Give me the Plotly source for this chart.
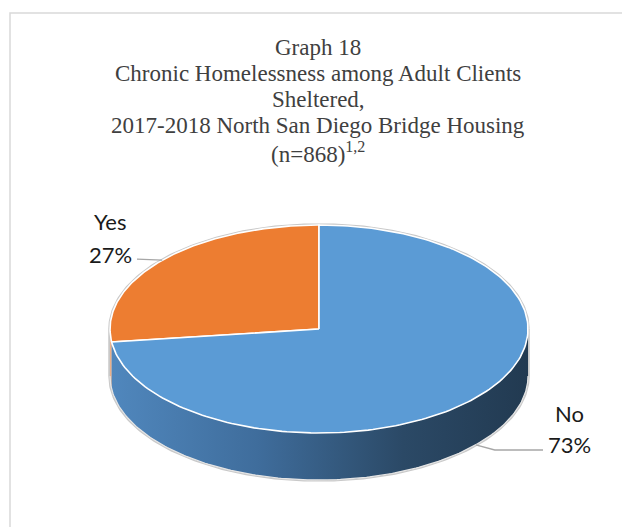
import numpy as np
import plotly.graph_objects as go

# Chart data
categories = ["Yes", "No"]
percents = [27, 73]
n_clients = 868
slice_colors = ["#ED7D31", "#5B9BD5"]

title_lines = [
    "Graph 18",
    "Chronic Homelessness among Adult Clients",
    "Sheltered,",
    "2017-2018 North San Diego Bridge Housing",
    f"(n={n_clients})<sup>1,2</sup>",
]

# Canvas / pie geometry (pixel space)
W, H = 622, 527
CX, CY = 319, 329      # centre of the top face
RX, RY = 209, 104      # ellipse radii of the top face
DEPTH = 47             # thickness of the disc
START = 90.0           # first slice starts at 12 o'clock, counter-clockwise


def arc(t0, t1, dy=0.0, n=200):
    t = np.radians(np.linspace(t0, t1, n))
    return CX + RX * np.cos(t), CY - RY * np.sin(t) + dy


# slice angle spans
total = sum(percents)
bounds = [START]
for p in percents:
    bounds.append(bounds[-1] + 360.0 * p / total)
spans = list(zip(bounds[:-1], bounds[1:]))

fig = go.Figure()

# outer silhouette (soft grey rim)
bx, by = arc(0, 180)
fx, fy = arc(180, 360, DEPTH)
sil_x = np.concatenate([bx, fx, [bx[0]]])
sil_y = np.concatenate([by, fy, [by[0]]])
fig.add_trace(go.Scatter(x=sil_x, y=sil_y, mode="lines",
                         line=dict(color="#c9c9c9", width=3.5),
                         hoverinfo="skip", showlegend=False))

# visible front wall (angles 180..360) for each slice
side_colors = {"Yes": "#eab08a", "No": None}
for cat, (a0, a1), col in zip(categories, spans, slice_colors):
    segs = []
    for shift in (0, 360, -360):
        s0, s1 = max(a0 + shift, 180), min(a1 + shift, 360)
        if s1 > s0:
            segs.append((s0, s1))
    for s0, s1 in segs:
        tx, ty = arc(s0, s1)
        ux, uy = arc(s1, s0, DEPTH)
        px = np.concatenate([tx, ux, [tx[0]]])
        py = np.concatenate([ty, uy, [ty[0]]])
        if cat == "No":
            fig.add_trace(go.Scatter(
                x=px, y=py, mode="lines", fill="toself",
                line=dict(width=0, color="rgba(0,0,0,0)"),
                fillgradient=dict(
                    type="horizontal",
                    colorscale=[[0, "#5087bd"], [0.35, "#3f6d9c"],
                                [0.7, "#2b4966"], [1, "#223a51"]],
                ),
                hoverinfo="skip", showlegend=False))
        else:
            fig.add_trace(go.Scatter(
                x=px, y=py, mode="lines", fill="toself",
                fillcolor=side_colors[cat],
                line=dict(width=0, color="rgba(0,0,0,0)"),
                hoverinfo="skip", showlegend=False))

# white seam along the bottom edge of the wall
ex, ey = arc(180, 360, DEPTH)
fig.add_trace(go.Scatter(x=ex, y=ey, mode="lines",
                         line=dict(color="#e6e6e6", width=1.2),
                         hoverinfo="skip", showlegend=False))

# top face slices
for cat, (a0, a1), col in zip(categories, spans, slice_colors):
    ax, ay = arc(a0, a1)
    px = np.concatenate([[CX], ax, [CX]])
    py = np.concatenate([[CY], ay, [CY]])
    fig.add_trace(go.Scatter(x=px, y=py, mode="lines", fill="toself",
                             fillcolor=col,
                             line=dict(color="white", width=1.6),
                             hoverinfo="skip", showlegend=False))

# leader lines, anchored at each slice's mid angle
mids = [(a0 + a1) / 2 for a0, a1 in spans]
# Yes: on the top rim, running left to the label
yx, yy = arc(mids[0], mids[0], n=1)
fig.add_trace(go.Scatter(x=[yx[0], 137], y=[yy[0], yy[0] - 1], mode="lines",
                         line=dict(color="#a6a6a6", width=1.3),
                         hoverinfo="skip", showlegend=False))
# No: on the bottom rim, bending to the label
nx, ny = arc(mids[1], mids[1], DEPTH, n=1)
fig.add_trace(go.Scatter(x=[nx[0], nx[0] + 19, 543], y=[ny[0], 450, 450],
                         mode="lines",
                         line=dict(color="#a6a6a6", width=1.3),
                         hoverinfo="skip", showlegend=False))

annotations = []
# title, one annotation per line
baselines = [55, 81, 107, 133, 160]
for txt, b in zip(title_lines, baselines):
    annotations.append(dict(
        x=318, y=b - 8, xref="x", yref="y", text=txt, showarrow=False,
        xanchor="center", yanchor="middle",
        font=dict(family="Liberation Serif", size=23, color="#404040")))

# data labels
label_pos = {"Yes": (110, 221.5, 254.5), "No": (569.5, 413.5, 444)}
for cat, p in zip(categories, percents):
    lx, y1, y2 = label_pos[cat]
    annotations.append(dict(x=lx, y=y1, xref="x", yref="y", text=cat,
                            showarrow=False, xanchor="center", yanchor="middle",
                            font=dict(family="Lato", size=22, color="#1a1a1a")))
    annotations.append(dict(x=lx, y=y2, xref="x", yref="y", text=f"{p}%",
                            showarrow=False, xanchor="center", yanchor="middle",
                            font=dict(family="Lato", size=22, color="#1a1a1a")))

fig.update_layout(
    width=W, height=H,
    margin=dict(l=0, r=0, t=0, b=0),
    paper_bgcolor="white", plot_bgcolor="white",
    xaxis=dict(range=[0, W], visible=False, fixedrange=True),
    yaxis=dict(range=[H, 0], visible=False, fixedrange=True),
    annotations=annotations,
    shapes=[dict(type="rect", xref="x", yref="y", x0=10, y0=13, x1=W + 20, y1=H + 20,
                 line=dict(color="#d9d9d9", width=1.5), fillcolor="rgba(0,0,0,0)",
                 layer="below")],
    showlegend=False,
)

fig.write_html("out.html")
